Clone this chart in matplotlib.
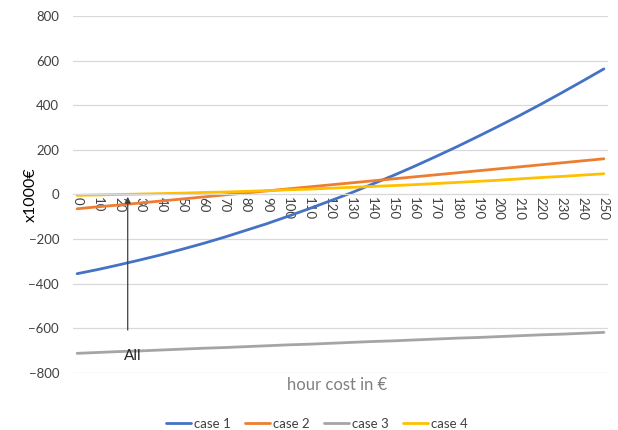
import matplotlib
matplotlib.use('Agg')
import matplotlib.pyplot as plt

plt.rcParams['font.family'] = ['Lato', 'DejaVu Sans']

# hour cost categories
hour_cost = [0, 10, 20, 30, 40, 50, 60, 70, 80, 90, 100, 110, 120,
             130, 140, 150, 160, 170, 180, 190, 200, 210, 220, 230, 240, 250]

# values (x1000 EUR)
case1 = [-355, -336, -315, -293, -270, -245, -219, -191, -161, -131, -98, -64, -29,
         7, 46, 85, 126, 169, 213, 259, 306, 354, 404, 456, 509, 563]
case2 = [-64, -55, -47, -38, -29, -20, -11, -2, 7, 16, 25, 34, 43,
         52, 61, 70, 79, 88, 97, 106, 115, 124, 133, 142, 151, 160]
case3 = [-712, -708, -704, -701, -697, -693, -689, -686, -682, -678, -674, -671, -667,
         -663, -659, -656, -652, -648, -644, -641, -637, -633, -629, -626, -622, -618]
case4 = [-4, -2, 0, 2, 4, 6, 9, 11, 14, 17, 21, 24, 28,
         32, 36, 40, 44, 49, 54, 59, 64, 70, 76, 81, 87, 93]

series = [('case 1', case1, '#4472C4'),
          ('case 2', case2, '#ED7D31'),
          ('case 3', case3, '#A5A5A5'),
          ('case 4', case4, '#FFC000')]

fig = plt.figure(figsize=(6.18, 4.30), dpi=100)
ax = fig.add_axes([0.118, 0.1326, 0.866, 0.8302])

for name, vals, col in series:
    ax.plot(hour_cost, vals, color=col, lw=2.0, label=name, solid_capstyle='round')

ax.set_xlim(-2, 252)
ax.set_ylim(-800, 800)
ax.grid(axis='y', color='#D9D9D9', lw=0.9)
ax.set_axisbelow(True)

for s in ['top', 'right', 'left']:
    ax.spines[s].set_visible(False)
ax.spines['bottom'].set_position(('data', 0))
ax.spines['bottom'].set_color('#D9D9D9')

ax.set_yticks(range(-800, 801, 200))
ax.set_xticks(hour_cost)
ax.set_xticklabels([str(v) for v in hour_cost])
ax.tick_params(axis='both', length=0)
ax.tick_params(axis='y', labelsize=9.5, labelcolor='#404040', pad=10)
ax.tick_params(axis='x', labelsize=9.5, labelcolor='#404040', pad=2, labelrotation=-90)

fig.text(0.05, 0.5475, 'x1000€', rotation=90, ha='center', va='center', fontsize=11.5, color='#000000')
fig.text(0.545, 0.105, 'hour cost in €', ha='center', va='center', fontsize=12, color='#808080')

# annotation arrow
ax.annotate('', xy=(24, 2), xytext=(24, -620),
            arrowprops=dict(arrowstyle='-|>', color='#404040', lw=0.9, mutation_scale=9))
ax.text(26.5, -722, 'All', ha='center', va='center', fontsize=11, color='#262626')

leg = fig.legend(loc='center', bbox_to_anchor=(0.513, 0.015), ncol=4, frameon=False,
                 fontsize=9.5, handlelength=1.9, columnspacing=1.1, handletextpad=0.2)
for t in leg.get_texts():
    t.set_color('#404040')

fig.savefig('out.png', dpi=100)
